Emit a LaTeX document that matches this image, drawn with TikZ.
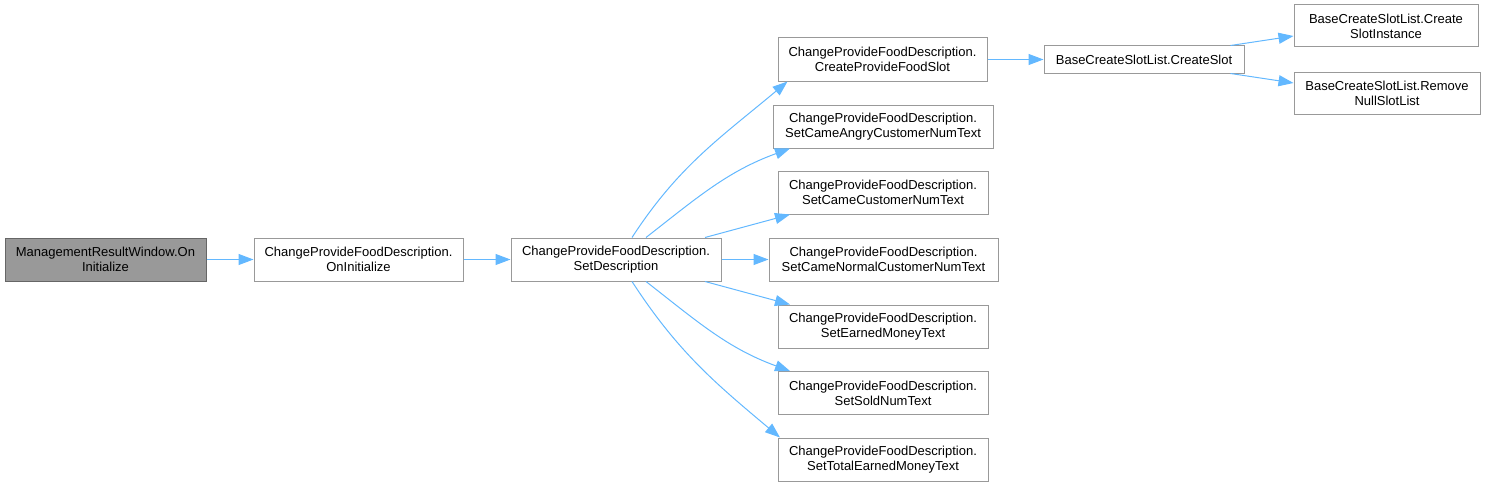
\documentclass[tikz,border=0pt]{standalone}
\usepackage{fontspec}
\setmainfont{Liberation Sans}
\usepackage{tikz}
\usetikzlibrary{arrows.meta,positioning}
\definecolor{callcolor}{RGB}{99,184,255}
\definecolor{boxcolor}{RGB}{153,153,153}
\definecolor{rootborder}{RGB}{102,102,102}

\begin{document}
\begin{tikzpicture}[
        x=1pt, y=-1pt,
        fnode/.style={rectangle, draw=boxcolor, line width=1pt, fill=white, align=center, inner sep=0pt, minimum height=43pt, font=\fontsize{13}{15}\selectfont},
        rootnode/.style={fnode, draw=rootborder, fill=boxcolor},
        call/.style={draw=callcolor, line width=1pt, -{Triangle[length=15pt,width=11pt]}}
    ]
        \useasboundingbox (0,0) rectangle (1487,487);

        \node[rootnode, minimum width=201pt] (init) at (105.5,259.5) {ManagementResultWindow.On\\Initialize};
        \node[fnode, minimum width=209pt] (oninit) at (358.5,259.5) {ChangeProvideFoodDescription.\\OnInitialize};
        \node[fnode, minimum width=210pt] (setdesc) at (616,259.5) {ChangeProvideFoodDescription.\\SetDescription};

        \node[fnode, minimum width=209pt] (createslot) at (882.5,59.5) {ChangeProvideFoodDescription.\\CreateProvideFoodSlot};
        \node[fnode, minimum width=220pt] (angry) at (883,126.5) {ChangeProvideFoodDescription.\\SetCameAngryCustomerNumText};
        \node[fnode, minimum width=210pt] (came) at (883,192.5) {ChangeProvideFoodDescription.\\SetCameCustomerNumText};
        \node[fnode, minimum width=229pt] (normal) at (883.5,259.5) {ChangeProvideFoodDescription.\\SetCameNormalCustomerNumText};
        \node[fnode, minimum width=210pt] (earned) at (883,326.5) {ChangeProvideFoodDescription.\\SetEarnedMoneyText};
        \node[fnode, minimum width=210pt] (sold) at (883,393) {ChangeProvideFoodDescription.\\SetSoldNumText};
        \node[fnode, minimum width=210pt] (total) at (883,459.5) {ChangeProvideFoodDescription.\\SetTotalEarnedMoneyText};

        \node[fnode, minimum width=200pt, minimum height=27pt] (baseslot) at (1144,59.5) {BaseCreateSlotList.CreateSlot};
        \node[fnode, minimum width=184pt, minimum height=42pt] (instance) at (1386,26) {BaseCreateSlotList.Create\\SlotInstance};
        \node[fnode, minimum width=186pt, minimum height=42pt] (removenull) at (1387,93) {BaseCreateSlotList.Remove\\NullSlotList};

        \draw[call] (init.east) -- (oninit.west);
        \draw[call] (oninit.east) -- (setdesc.west);

        \draw[call] ([xshift=16pt]setdesc.north) to[out=57, in=220] ([xshift=-95pt]createslot.south);
        \draw[call] ([xshift=30pt]setdesc.north) to[out=38, in=200] ([xshift=-93pt]angry.south);
        \draw[call] ([xshift=89pt]setdesc.north) -- ([xshift=-93pt]came.south);
        \draw[call] (setdesc.east) -- (normal.west);
        \draw[call] ([xshift=89pt]setdesc.south) -- ([xshift=-93pt]earned.north);
        \draw[call] ([xshift=30pt]setdesc.south) to[out=-38, in=160] ([xshift=-93pt]sold.north);
        \draw[call] ([xshift=16pt]setdesc.south) to[out=-57, in=140] ([xshift=-103pt]total.north);

        \draw[call] (createslot.east) -- (baseslot.west);
        \draw[call] ([xshift=-14pt]baseslot.north east) -- ([yshift=-10pt]instance.west);
        \draw[call] ([xshift=-14pt]baseslot.south east) -- ([yshift=10pt]removenull.west);
    \end{tikzpicture}
\end{document}
